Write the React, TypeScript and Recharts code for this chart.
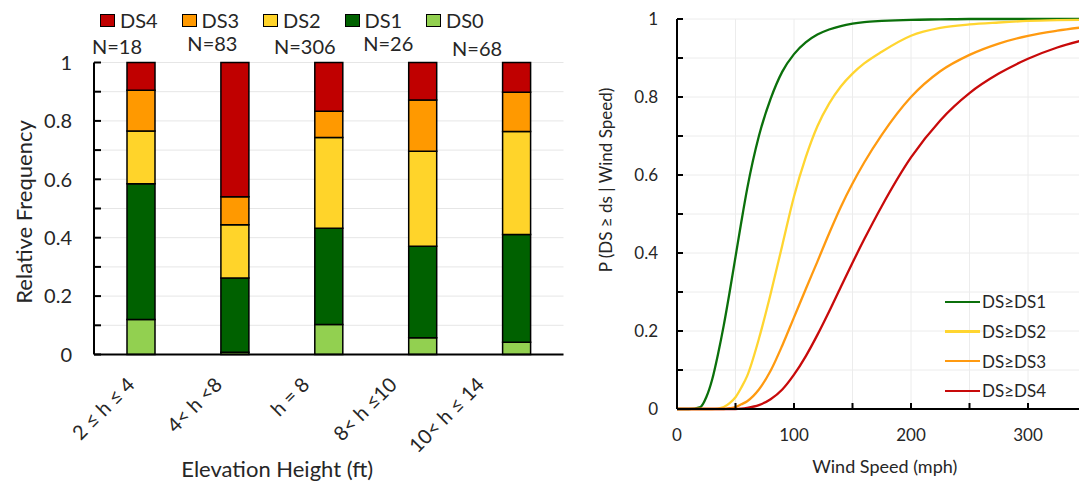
import { Bar, BarChart, CartesianGrid, LabelList, Legend, Line, LineChart, XAxis, YAxis } from "recharts";

const FONT = "Lato, 'Open Sans', sans-serif";
const INK = "#262626";

// left panel: damage state shares per elevation bin
const heightBins = ["2 ≤ h ≤ 4", "4< h <8", "h = 8", "8< h ≤10", "10< h ≤ 14"];
const sampleSizes = [18, 83, 306, 26, 68];
const shareDS0 = [0.12, 0.008, 0.103, 0.057, 0.042];
const shareDS1 = [0.465, 0.254, 0.329, 0.314, 0.369];
const shareDS2 = [0.18, 0.182, 0.311, 0.325, 0.353];
const shareDS3 = [0.14, 0.096, 0.09, 0.176, 0.134];
const shareDS4 = [0.095, 0.46, 0.167, 0.128, 0.102];
const freqTicks = [0, 0.1, 0.2, 0.3, 0.4, 0.5, 0.6, 0.7, 0.8, 0.9, 1];

// right panel: fragility curves
const windSpeeds = [0, 10, 20, 25, 30, 35, 40, 45, 50, 55, 60, 70, 80, 90, 100, 110, 120, 130, 140, 150, 160, 175, 200, 225, 250, 275, 300, 325, 350];
const pDS1 = [0, 0, 0.005, 0.03, 0.075, 0.14, 0.215, 0.3, 0.39, 0.48, 0.565, 0.7, 0.795, 0.865, 0.91, 0.94, 0.96, 0.973, 0.982, 0.988, 0.992, 0.995, 0.998, 0.999, 1, 1, 1, 1, 1];
const pDS2 = [0, 0, 0, 0, 0, 0.001, 0.005, 0.015, 0.03, 0.055, 0.085, 0.18, 0.295, 0.42, 0.545, 0.645, 0.725, 0.783, 0.827, 0.86, 0.886, 0.916, 0.957, 0.977, 0.986, 0.991, 0.995, 0.997, 0.998];
const pDS3 = [0, 0, 0, 0, 0, 0, 0, 0.002, 0.005, 0.012, 0.02, 0.05, 0.098, 0.163, 0.235, 0.307, 0.378, 0.45, 0.518, 0.578, 0.632, 0.703, 0.8, 0.866, 0.908, 0.937, 0.957, 0.97, 0.98];
const pDS4 = [0, 0, 0, 0, 0, 0, 0, 0, 0, 0.001, 0.003, 0.01, 0.025, 0.05, 0.088, 0.135, 0.19, 0.25, 0.313, 0.375, 0.435, 0.52, 0.645, 0.74, 0.81, 0.86, 0.898, 0.927, 0.948];
const speedTicks = [0, 50, 100, 150, 200, 250, 300, 350];
const probTicks = [0, 0.1, 0.2, 0.3, 0.4, 0.5, 0.6, 0.7, 0.8, 0.9, 1];

const barRows = heightBins.map((cat, i) => ({
  cat,
  n: sampleSizes[i],
  ds0: shareDS0[i],
  ds1: shareDS1[i],
  ds2: shareDS2[i],
  ds3: shareDS3[i],
  ds4: shareDS4[i],
}));

const curveRows = windSpeeds.map((v, i) => ({ v, ds1: pDS1[i], ds2: pDS2[i], ds3: pDS3[i], ds4: pDS4[i] }));

const barSeries = [
  { key: "ds0", name: "DS0", color: "#92D050" },
  { key: "ds1", name: "DS1", color: "#006100" },
  { key: "ds2", name: "DS2", color: "#FFD42A" },
  { key: "ds3", name: "DS3", color: "#FF9900" },
  { key: "ds4", name: "DS4", color: "#C00000" },
];

const curveSeries = [
  { key: "ds1", name: "DS≥DS1", color: "#0B700B" },
  { key: "ds2", name: "DS≥DS2", color: "#FFD530" },
  { key: "ds3", name: "DS≥DS3", color: "#FF9A10" },
  { key: "ds4", name: "DS≥DS4", color: "#C80A0A" },
];

// hand placed "N=" labels in the original sit a bit left of each bar
const nLabelShift = [
  [-24, -8.5],
  [-22.5, -11.5],
  [-24, -8.5],
  [-34.5, -11.5],
  [-39.5, -6.5],
];

function FreqTick(props: any) {
  const { x, y, payload } = props;
  const axisX = x + 22;
  const v = payload.value as number;
  const showLabel = Math.round(v * 10) % 2 === 0;
  return (
    <g>
      <line x1={axisX} x2={axisX + 7} y1={y} y2={y} stroke="#000" strokeWidth={2} />
      {showLabel && (
        <text x={x} y={y} dy="0.36em" textAnchor="end" fontSize={20} fill={INK} fontFamily={FONT}>
          {String(Math.round(v * 10) / 10)}
        </text>
      )}
    </g>
  );
}

function BinTick(props: any) {
  const { x, y, payload, index } = props;
  const tx = x - 5 - 6.5 * index;
  return (
    <text x={tx} y={y} transform={`rotate(-45 ${tx} ${y})`} textAnchor="end" fontSize={20} fill={INK} fontFamily={FONT}>
      {payload.value}
    </text>
  );
}

function NLabel(props: any) {
  const { x, y, width, value, index } = props;
  const [dx, dy] = nLabelShift[index] || [0, -9];
  return (
    <text x={x + width / 2 + dx} y={y + dy} textAnchor="middle" fontSize={20} fill={INK} fontFamily={FONT}>
      {`N=${value}`}
    </text>
  );
}

function BarLegend() {
  const items = [...barSeries].reverse();
  return (
    <div style={{ display: "flex", fontFamily: FONT, fontSize: 20, lineHeight: "20px", color: INK }}>
      {items.map((s) => (
        <div key={s.key} style={{ width: 81.5, height: 20, display: "flex", alignItems: "center" }}>
          <span style={{ width: 13, height: 11, background: s.color, border: "1.5px solid #000", marginRight: 5 }} />
          <span>{s.name}</span>
        </div>
      ))}
    </div>
  );
}

function ProbTick(props: any) {
  const { x, y, payload } = props;
  const axisX = x + 19;
  const v = payload.value as number;
  const showLabel = Math.round(v * 10) % 2 === 0;
  return (
    <g>
      <line x1={axisX} x2={axisX + 6} y1={y} y2={y} stroke="#000" strokeWidth={2} />
      {showLabel && (
        <text x={x} y={y} dy="0.36em" textAnchor="end" fontSize={17} fill={INK} fontFamily={FONT}>
          {String(Math.round(v * 10) / 10)}
        </text>
      )}
    </g>
  );
}

function SpeedTick(props: any) {
  const { x, y, payload } = props;
  const axisY = y - 20;
  const v = payload.value as number;
  return (
    <g>
      <line x1={x} x2={x} y1={axisY} y2={axisY - 6} stroke="#000" strokeWidth={2} />
      {v % 100 === 0 && (
        <text x={x} y={y} dy="0.71em" textAnchor="middle" fontSize={17} fill={INK} fontFamily={FONT}>
          {v}
        </text>
      )}
    </g>
  );
}

function CurveLegend() {
  return (
    <div style={{ fontFamily: FONT, fontSize: 17, color: INK }}>
      {curveSeries.map((s) => (
        <div key={s.key} style={{ height: 29.7, display: "flex", alignItems: "center" }}>
          <span style={{ width: 35, height: 2.5, background: s.color, marginRight: 2 }} />
          <span>{s.name}</span>
        </div>
      ))}
    </div>
  );
}

function AxisTitle(props: any) {
  const { viewBox, text, dx = 0, dy = 0, vertical = false, size = 20 } = props;
  const cx = viewBox.x + (vertical ? 0 : viewBox.width / 2) + dx;
  const cy = viewBox.y + viewBox.height / 2 + dy;
  return (
    <text
      x={cx}
      y={cy}
      dy="0.35em"
      textAnchor="middle"
      fontSize={size}
      fill={INK}
      fontFamily={FONT}
      transform={vertical ? `rotate(-90 ${cx} ${cy})` : undefined}
    >
      {text}
    </text>
  );
}

export default function App() {
  return (
    <div style={{ position: "absolute", left: 0, top: 0, width: 1079, height: 485, overflow: "hidden", background: "#fff", fontFamily: FONT }}>
      <div style={{ position: "absolute", left: 0, top: 0 }}>
        <BarChart width={580} height={485} data={barRows} margin={{ top: 62.5, right: 16.5, bottom: 0, left: 0 }} barSize={28}>
          <CartesianGrid vertical={false} stroke="#e6e6e6" strokeWidth={1} />
          <XAxis
            dataKey="cat"
            height={130.5}
            tickSize={0}
            tickMargin={31.5}
            tickLine={false}
            axisLine={{ stroke: "#000", strokeWidth: 2 }}
            tick={<BinTick />}
            interval={0}
            label={<AxisTitle text="Elevation Height (ft)" dx={-51.5} dy={50} size={22} />}
          />
          <XAxis xAxisId="top" dataKey="cat" orientation="top" height={0} tick={false} tickLine={false} axisLine={{ stroke: "#000", strokeWidth: 2 }} />
          <YAxis
            width={94}
            domain={[0, 1]}
            ticks={freqTicks}
            tickSize={0}
            tickMargin={22}
            tickLine={false}
            axisLine={{ stroke: "#000", strokeWidth: 2 }}
            tick={<FreqTick />}
            interval={0}
            label={<AxisTitle text="Relative Frequency" vertical dx={24} dy={3.5} size={22} />}
          />
          <YAxis yAxisId="r" orientation="right" width={0} domain={[0, 1]} tick={false} tickLine={false} axisLine={{ stroke: "#000", strokeWidth: 2 }} />
          <Legend
            layout="horizontal"
            verticalAlign="middle"
            align="center"
            wrapperStyle={{ top: 10, left: 100, width: 420, height: 20 }}
            content={<BarLegend />}
          />
          {barSeries.map((s) => (
            <Bar key={s.key} dataKey={s.key} name={s.name} stackId="ds" fill={s.color} stroke="#000" strokeWidth={1.5} isAnimationActive={false}>
              {s.key === "ds4" && <LabelList dataKey="n" content={<NLabel />} />}
            </Bar>
          ))}
        </BarChart>
      </div>
      <div style={{ position: "absolute", left: 580, top: 0 }}>
        <LineChart width={520} height={485} data={curveRows} margin={{ top: 19, right: 13.5, bottom: 0, left: 20 }}>
          <CartesianGrid stroke="#ececec" strokeWidth={1} />
          <XAxis
            dataKey="v"
            type="number"
            domain={[0, 350]}
            ticks={speedTicks}
            interval={0}
            height={76}
            tickSize={0}
            tickMargin={20}
            tickLine={false}
            axisLine={{ stroke: "#000", strokeWidth: 2 }}
            tick={<SpeedTick />}
            label={<AxisTitle text="Wind Speed (mph)" dx={3} dy={20} size={18} />}
          />
          <XAxis xAxisId="top" type="number" dataKey="v" domain={[0, 350]} orientation="top" height={0} tick={false} tickLine={false} axisLine={{ stroke: "#000", strokeWidth: 2 }} />
          <YAxis
            width={77}
            domain={[0, 1]}
            ticks={probTicks}
            interval={0}
            tickSize={0}
            tickMargin={19}
            tickLine={false}
            axisLine={{ stroke: "#000", strokeWidth: 2 }}
            tick={<ProbTick />}
            label={<AxisTitle text="P (DS ≥ ds | Wind Speed)" vertical dx={6} dy={-34} size={17} />}
          />
          <Legend
            layout="horizontal"
            verticalAlign="middle"
            align="center"
            wrapperStyle={{ top: 287, left: 365, width: 130, height: 120 }}
            content={<CurveLegend />}
          />
          {curveSeries.map((s) => (
            <Line key={s.key} type="monotone" dataKey={s.key} name={s.name} stroke={s.color} strokeWidth={2.3} dot={false} isAnimationActive={false} />
          ))}
        </LineChart>
      </div>
    </div>
  );
}
